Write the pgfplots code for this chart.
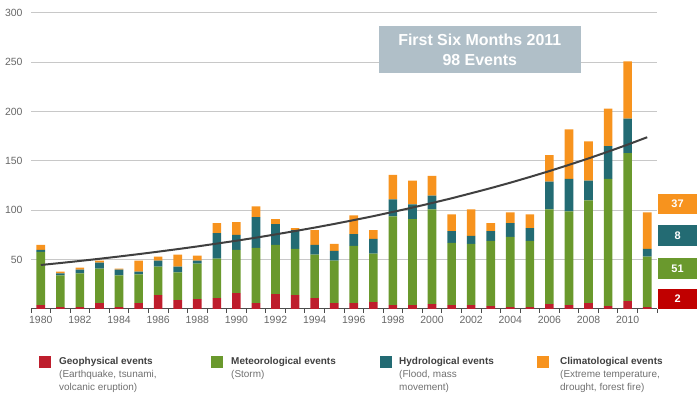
\documentclass[border=0pt]{standalone}
\usepackage{fontspec}
\setmainfont{Liberation Sans}
\usepackage{pgfplots}
\pgfplotsset{compat=1.18}
\usepackage{pgfplotstable}

\definecolor{geo}{HTML}{BE1E2D}
\definecolor{met}{HTML}{6A992D}
\definecolor{hyd}{HTML}{236B73}
\definecolor{cli}{HTML}{F7931E}
\definecolor{redbox}{HTML}{C00000}
\definecolor{trend}{HTML}{404040}
\definecolor{gridc}{HTML}{C8C8C8}
\definecolor{boxc}{HTML}{B0BFC8}
\definecolor{txt}{HTML}{666666}
\definecolor{legtitle}{HTML}{404040}
\definecolor{legtxt}{HTML}{707070}

\pgfplotstableread{
year geo met hyd cli trend
1980 4 54 2 5 44.6
1981 2 32 2 2 46.6
1982 2 34 4 2 48.7
1983 6 35 6 2 50.9
1984 2 32 6 1 53.2
1985 6 29 3 11 55.6
1986 14 29 6 4 58.1
1987 9 28 6 12 60.7
1988 10 36 3 5 63.4
1989 11 40 26 10 66.3
1990 16 44 15 13 69.2
1991 6 56 31 11 72.3
1992 15 50 21 5 75.6
1993 14 47 19 2 79.0
1994 11 44 10 15 82.5
1995 6 43 10 7 86.2
1996 6 58 12 19 90.1
1997 7 49 15 9 94.1
1998 4 90 17 25 98.4
1999 4 87 15 24 102.8
2000 5 96 14 20 107.4
2001 4 63 12 17 112.2
2002 4 62 8 27 117.3
2003 3 66 10 8 122.5
2004 2 71 14 11 128.0
2005 2 67 13 14 133.8
2006 5 96 28 27 139.8
2007 4 95 33 50 146.1
2008 6 104 20 40 152.6
2009 3 129 33 38 159.5
2010 8 150 35 58 166.6
2011 2 51 8 37 174.1
}\data

\pgfplotsset{base/.style={
  scale only axis, width=626bp, height=296bp,
  at={(31bp,86bp)}, anchor=south west,
  xmin=1979.5, xmax=2011.5, ymin=0, ymax=300,
}}

\begin{document}
\begin{tikzpicture}
\path[use as bounding box] (0,0) rectangle (700bp,395bp);
\begin{axis}[base,
  ybar stacked, bar width=0.44,
  axis x line*=bottom, axis y line*=left,
  x axis line style={-, draw=black!70, line width=1bp},
  y axis line style={draw=none},
  ymajorgrids, major grid style={gridc, line width=1bp},
  ytick={50,100,...,300},
  ytick style={draw=none},
  xtick={1980,1982,...,2010},
  major tick length=0pt,
  minor xtick={1979.5,1980.5,...,2011.5},
  minor tick length=4bp,
  tick align=outside,
  xtick style={draw=black!70, line width=0.8bp},
  xticklabel style={txt, font=\fontsize{10.5}{12}\selectfont, yshift=-4bp},
  yticklabel style={txt, font=\fontsize{10.5}{12}\selectfont, xshift=-5bp},
  /pgf/number format/assume math mode=true,
  xticklabel={\pgfmathprintnumber[1000 sep={}]{\tick}},
]
\addplot[fill=geo, draw=none] table[x=year, y=geo]{\data};
\addplot[fill=met, draw=none] table[x=year, y=met]{\data};
\addplot[fill=hyd, draw=none] table[x=year, y=hyd]{\data};
\addplot[fill=cli, draw=none] table[x=year, y=cli]{\data};
\end{axis}
\begin{axis}[base, hide axis, clip=false]
\addplot[trend, line width=2bp, no marks] table[x=year, y=trend]{\data};
\node[fill=boxc, minimum width=201.7bp, minimum height=47.3bp, inner sep=0pt,
      text=white, align=center, font=\bfseries\fontsize{16}{19.7}\selectfont]
  at (axis cs:2002.44,262.9) {First Six Months 2011\\98 Events};
\tikzset{nb/.style={minimum width=39bp, minimum height=20.5bp, inner sep=0pt,
  text=white, font=\bfseries\fontsize{11}{12}\selectfont}}
\node[nb, fill=cli] at (axis cs:2012.55,106.4) {37};
\node[nb, fill=hyd] at (axis cs:2012.55,74.5) {8};
\node[nb, fill=met] at (axis cs:2012.55,41.0) {51};
\node[nb, fill=redbox] at (axis cs:2012.55,10.1) {2};
\end{axis}
% legend
\tikzset{lt/.style={anchor=base west, inner sep=0pt, text=legtitle, font=\bfseries\fontsize{10}{12}\selectfont},
         ld/.style={anchor=base west, inner sep=0pt, text=legtxt, font=\fontsize{10}{12}\selectfont}}
\fill[geo] (39bp,27bp) rectangle (51bp,39bp);
\node[lt] at (59bp,30.5bp) {Geophysical events};
\node[ld] at (59bp,17.5bp) {(Earthquake, tsunami,};
\node[ld] at (59bp,4.5bp) {volcanic eruption)};
\fill[met] (211bp,27bp) rectangle (223bp,39bp);
\node[lt] at (231bp,30.5bp) {Meteorological events};
\node[ld] at (231bp,17.5bp) {(Storm)};
\fill[hyd] (380bp,27bp) rectangle (392bp,39bp);
\node[lt] at (399bp,30.5bp) {Hydrological events};
\node[ld] at (399bp,17.5bp) {(Flood, mass};
\node[ld] at (399bp,4.5bp) {movement)};
\fill[cli] (537bp,27bp) rectangle (549bp,39bp);
\node[lt] at (560bp,30.5bp) {Climatological events};
\node[ld] at (560bp,17.5bp) {(Extreme temperature,};
\node[ld] at (560bp,4.5bp) {drought, forest fire)};
\end{tikzpicture}
\end{document}
